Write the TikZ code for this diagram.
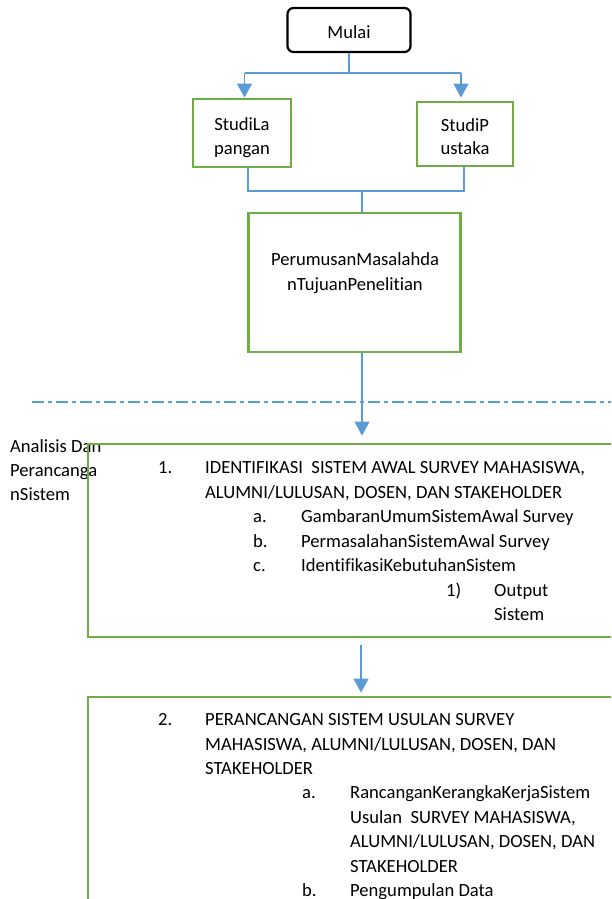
\documentclass[tikz,border=0pt]{standalone}
\usepackage{fontspec}
\setmainfont{Carlito}[Ligatures=NoCommon]
\usetikzlibrary{arrows.meta}
\definecolor{lblue}{HTML}{5B9BD5}
\definecolor{lgreen}{HTML}{70AD47}
\begin{document}
\begin{tikzpicture}[x=1pt,y=-1pt,
  gbox/.style={draw=lgreen,line width=2.8pt,inner sep=0pt},
  startbox/.style={draw=black,line width=2.2pt,rounded corners=6pt,inner sep=0pt},
  conn/.style={draw=lblue,line width=1.2pt},
  arr/.style={conn,-{Triangle[width=15pt,length=14pt]}},
  dashdot/.style={draw=lblue,line width=1.2pt,dash pattern=on 12pt off 4pt on 4pt off 4pt},
  txt/.style={inner sep=0pt,font=\fontsize{18.6}{24}\selectfont},
  tl/.style={txt,anchor=base west},
  tc/.style={txt,anchor=base}]
\useasboundingbox (0,0) rectangle (611,899);
\clip (0,0) rectangle (611,899);

% boxes
\node[startbox,minimum width=123pt,minimum height=44pt] (mulai) at (349,30) {};
\node[gbox,minimum width=98pt,minimum height=68pt] (sla) at (242,133) {};
\node[gbox,minimum width=96pt,minimum height=64pt] (spu) at (465,134) {};
\node[gbox,minimum width=212pt,minimum height=139pt] (rumus) at (354.5,282.5) {};

% texts in top boxes
\node[tc] (tmulai) at (349,39) {Mulai};
\node[tc] (tsla1) at (242,130) {StudiLa};
\node[tc] (tsla2) at (242,154) {pangan};
\node[tc] (tspu1) at (465,131) {StudiP};
\node[tc] (tspu2) at (465,154) {ustaka};
\node[tc] (trum1) at (355,265) {PerumusanMasalahda};
\node[tc] (trum2) at (355,290) {nTujuanPenelitian};

% side label
\node[tl] (an1) at (10,452) {Analisis Dan};
\node[tl] (an2) at (10,476) {Perancanga};
\node[tl] (an3) at (10,500) {nSistem};

% big boxes
\node[gbox,minimum width=552pt,minimum height=193pt] (box1) at (364,540.5) {};
\node[gbox,minimum width=552pt,minimum height=253pt] (box2) at (364,823.5) {};

% box 1 text
\node[tl] (b1n) at (158,473) {1.};
\node[tl] (b1l1) at (205,473) {IDENTIFIKASI\ \ SISTEM AWAL SURVEY MAHASISWA,};
\node[tl] (b1l2) at (205,498) {ALUMNI/LULUSAN, DOSEN, DAN STAKEHOLDER};
\node[tl] (b1a) at (253,522) {a.};
\node[tl] (b1at) at (301,522) {GambaranUmumSistemAwal Survey};
\node[tl] (b1b) at (253,547) {b.};
\node[tl] (b1bt) at (301,547) {PermasalahanSistemAwal Survey};
\node[tl] (b1c) at (253,571) {c.};
\node[tl] (b1ct) at (301,571) {IdentifikasiKebutuhanSistem};
\node[tl] (b1d) at (446,596) {1)};
\node[tl] (b1dt1) at (494,596) {Output};
\node[tl] (b1dt2) at (494,620) {Sistem};

% box 2 text
\node[tl] (b2n) at (158,725) {2.};
\node[tl] (b2l1) at (205,725) {PERANCANGAN SISTEM USULAN SURVEY};
\node[tl] (b2l2) at (205,750) {MAHASISWA, ALUMNI/LULUSAN, DOSEN, DAN};
\node[tl] (b2l3) at (205,774) {STAKEHOLDER};
\node[tl] (b2a) at (302,798) {a.};
\node[tl] (b2at1) at (350,798) {RancanganKerangkaKerjaSistem};
\node[tl] (b2at2) at (350,823) {Usulan\ \ SURVEY MAHASISWA,};
\node[tl] (b2at3) at (350,847) {ALUMNI/LULUSAN, DOSEN, DAN};
\node[tl] (b2at4) at (350,872) {STAKEHOLDER};
\node[tl] (b2b) at (302,896) {b.};
\node[tl] (b2bt) at (350,896) {Pengumpulan Data};

% connectors
\coordinate (j1) at (349,73);
\coordinate (jl) at (244.5,73);
\coordinate (jr) at (461,73);
\draw[conn] (mulai.south) -- (j1);
\draw[conn] (jl) -- (jr);
\draw[arr] (jl) -- (jl |- sla.north);
\draw[arr,shorten >=3pt] (jr) -- (jr |- spu.north);

\coordinate (jb1) at (248,191);
\coordinate (jb2) at (464,191);
\coordinate (jb3) at (362,191);
\draw[conn] (jb1 |- sla.south) -- (jb1) -- (jb2) -- (jb2 |- spu.south);
\draw[conn] (jb3) -- (jb3 |- rumus.north);

\coordinate (ax) at (362,0);
\draw[arr,shorten >=7pt] (ax |- rumus.south) -- (ax |- box1.north);
\coordinate (bx) at (361,0);
\draw[arr,shorten <=7pt,shorten >=3pt] (bx |- box1.south) -- (bx |- box2.north);

\coordinate (dl) at (32,402);
\coordinate (dr) at (611,402);
\draw[dashdot] (dl) -- (dr);
\end{tikzpicture}
\end{document}
